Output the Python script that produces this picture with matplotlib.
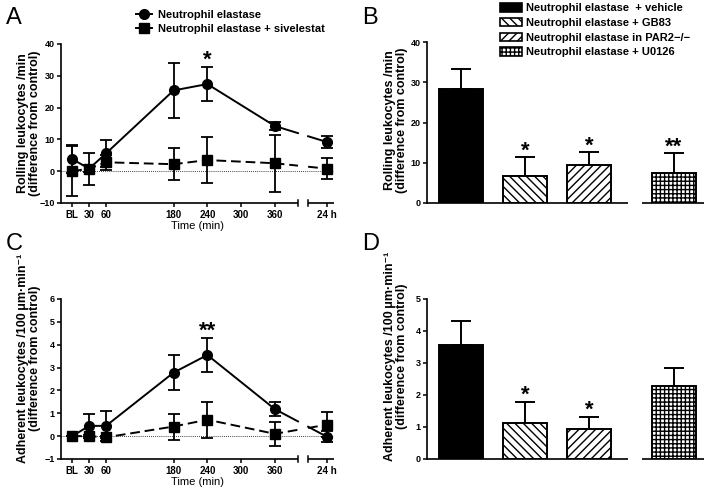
import matplotlib
matplotlib.use("Agg")
import matplotlib.pyplot as plt
from matplotlib.patches import Patch
from matplotlib.lines import Line2D
import numpy as np

plt.rcParams['font.family'] = ['Liberation Sans', 'DejaVu Sans']
plt.rcParams['font.weight'] = 'bold'
plt.rcParams['hatch.linewidth'] = 1.0

# time course (A, C); the 24 h point sits after the axis break
time_pos = [0, 30, 60, 180, 240, 360, 452]
time_ticks = [0, 30, 60, 180, 240, 300, 360, 452]
time_labels = ['BL', '30', '60', '180', '240', '300', '360', '24 h']

roll_ne = [3.8, 0.8, 5.6, 25.4, 27.4, 14.2, 9.2]
roll_ne_err = [4.4, 1.0, 4.2, 8.7, 5.4, 1.3, 2.0]
roll_siv = [0.0, 0.8, 2.8, 2.2, 3.5, 2.5, 0.8]
roll_siv_err = [7.8, 5.0, 2.3, 5.0, 7.3, 9.0, 3.2]

adh_ne = [0.0, 0.45, 0.45, 2.78, 3.55, 1.18, -0.02]
adh_ne_err = [0.0, 0.52, 0.67, 0.75, 0.75, 0.30, 0.25]
adh_siv = [0.0, 0.0, -0.05, 0.42, 0.72, 0.10, 0.50]
adh_siv_err = [0.0, 0.05, 0.05, 0.57, 0.78, 0.52, 0.55]

series = ['Neutrophil elastase', 'Neutrophil elastase + sivelestat']

# bar panels (B, D)
groups = ['Neutrophil elastase  + vehicle', 'Neutrophil elastase + GB83',
          'Neutrophil elastase in PAR2\u2212/\u2212', 'Neutrophil elastase + U0126']
roll_bar = [28.4, 6.6, 9.5, 7.45]
roll_bar_err = [5.0, 4.8, 3.1, 5.0]
roll_stars = ['', '*', '*', '**']
adh_bar = [3.57, 1.13, 0.95, 2.27]
adh_bar_err = [0.75, 0.65, 0.36, 0.57]
adh_stars = ['', '*', '*', '']

bar_pos = [0, 1, 2, 3.33]
hatches = ['', '\\\\\\\\', '////', '++++']
BRK = (401, 419)
W, H = 709, 495


def fx(px):
    return px / W


def fy(py):
    return 1 - py / H


def broken(ax, x, y, **kw):
    # leave a gap where the line crosses the axis break
    xs, ys = [x[0]], [y[0]]
    for i in range(1, len(x)):
        if x[i-1] < BRK[0] and x[i] > BRK[1]:
            for j, b in enumerate(BRK):
                f = (b - x[i-1]) / (x[i] - x[i-1])
                xs.append(b)
                ys.append(y[i-1] + f * (y[i] - y[i-1]))
                if j == 0:
                    xs.append(np.nan)
                    ys.append(np.nan)
        xs.append(x[i])
        ys.append(y[i])
    ax.plot(xs, ys, **kw)


def axis_segments(ax, segs):
    ax.spines['bottom'].set_visible(False)
    for a, b in segs:
        ax.plot([a, b], [0, 0], color='black', lw=1.2, clip_on=False,
                transform=ax.get_xaxis_transform(), solid_capstyle='butt')


def style(ax):
    for s in ['top', 'right']:
        ax.spines[s].set_visible(False)
    ax.spines['left'].set_linewidth(1.2)
    ax.tick_params(direction='out', length=3, width=1.1, labelsize=7, pad=2)
    ax.tick_params(axis='y', labelsize=6.5, pad=1.5)


def time_panel(ax, ne, ne_err, siv, siv_err, ylim, yticks):
    style(ax)
    ax.axhline(0, color='black', lw=0.6, ls=(0, (1, 1.5)), zorder=1)
    broken(ax, time_pos, ne, color='black', lw=1.4, zorder=2)
    broken(ax, time_pos, siv, color='black', lw=1.4, ls=(0, (5, 2.5)), zorder=2)
    for v, e in [(ne, ne_err), (siv, siv_err)]:
        ax.errorbar(time_pos, v, yerr=e, fmt='none', ecolor='black',
                    elinewidth=1.3, capsize=4.5, capthick=1.3, zorder=3)
    ax.plot(time_pos, ne, 'o', ms=7, color='black', zorder=4)
    ax.plot(time_pos, siv, 's', ms=7, color='black', zorder=4)
    ax.set_xlim(-20, 465)
    ax.set_ylim(ylim)
    ax.set_yticks(yticks)
    ax.set_xticks(time_ticks, time_labels)
    axis_segments(ax, [(-20, BRK[0]), (BRK[1], 465)])
    for b in BRK:
        ax.plot([b, b], [-0.02, 0.02], color='black', lw=1.1, clip_on=False,
                transform=ax.get_xaxis_transform())
    ax.set_xlabel('Time (min)', fontsize=8, labelpad=1)


def bar_panel(ax, vals, errs, stars, ylim, yticks, star_off):
    style(ax)
    for p, v, h in zip(bar_pos, vals, hatches):
        ax.bar(p, v, width=0.68, color='black' if not h else 'white', hatch=h,
               edgecolor='black', lw=1.4, zorder=3)
    ax.errorbar(bar_pos, vals, yerr=[[0] * 4, errs], fmt='none', ecolor='black',
                elinewidth=1.4, capsize=7.5, capthick=1.4, zorder=2)
    for p, v, e, s in zip(bar_pos, vals, errs, stars):
        if s:
            ax.text(p, v + e + star_off, s, ha='center', va='center', fontsize=16)
    ax.set_xlim(-0.53, 3.8)
    ax.set_ylim(ylim)
    ax.set_yticks(yticks)
    ax.set_xticks([])
    axis_segments(ax, [(-0.53, 2.61), (2.83, 3.8)])


fig = plt.figure(figsize=(W / 100, H / 100), dpi=100)
ax_a = fig.add_axes([fx(61), fy(203), 273 / W, 159 / H])
ax_b = fig.add_axes([fx(427), fy(203), 277 / W, 161 / H])
ax_c = fig.add_axes([fx(61), fy(459), 273 / W, 160 / H])
ax_d = fig.add_axes([fx(427), fy(459), 277 / W, 160 / H])

time_panel(ax_a, roll_ne, roll_ne_err, roll_siv, roll_siv_err, (-10, 40), range(-10, 41, 10))
ax_a.text(240, 35, '*', ha='center', va='center', fontsize=16)
time_panel(ax_c, adh_ne, adh_ne_err, adh_siv, adh_siv_err, (-1, 6), range(-1, 7))
ax_c.text(240, 4.6, '**', ha='center', va='center', fontsize=16)

bar_panel(ax_b, roll_bar, roll_bar_err, roll_stars, (0, 40), range(0, 41, 10), 1.5)
bar_panel(ax_d, adh_bar, adh_bar_err, adh_stars, (0, 5), range(0, 6), 0.2)

roll_lab = 'Rolling leukocytes /min\n(difference from control)'
adh_lab = 'Adherent leukocytes /100\u2009\u03bcm\u00b7min\u207b\u00b9\n(difference from control)'
for x, y, t in [(29, 123, roll_lab), (396, 120, roll_lab), (29, 358, adh_lab), (396, 356, adh_lab)]:
    fig.text(fx(x), fy(y), t, rotation=90, ha='center', va='center',
             multialignment='center', fontsize=9, linespacing=1.0)

for x, y, t in [(6, 7, 'A'), (362, 7, 'B'), (6, 233, 'C'), (362, 233, 'D')]:
    fig.text(fx(x), fy(y), t, ha='left', va='top', fontsize=17, fontweight='normal')

handles_a = [Line2D([], [], color='black', lw=1.4, marker='o', ms=7),
             Line2D([], [], color='black', lw=1.4, marker='s', ms=7)]
fig.legend(handles_a, series, loc='upper left', bbox_to_anchor=(fx(136), fy(10)),
           frameon=False, fontsize=8, borderpad=0, handlelength=1.4,
           handletextpad=0.55, labelspacing=0.38, borderaxespad=0)

handles_b = [Patch(facecolor='black' if not h else 'white', edgecolor='black',
                   hatch=h, lw=1.2) for h in hatches]
fig.legend(handles_b, groups, loc='upper left', bbox_to_anchor=(fx(500), fy(3)),
           frameon=False, fontsize=8, borderpad=0, handlelength=2.0,
           handleheight=0.8, handletextpad=0.3, labelspacing=0.42, borderaxespad=0)

fig.savefig('out.png', dpi=100)
